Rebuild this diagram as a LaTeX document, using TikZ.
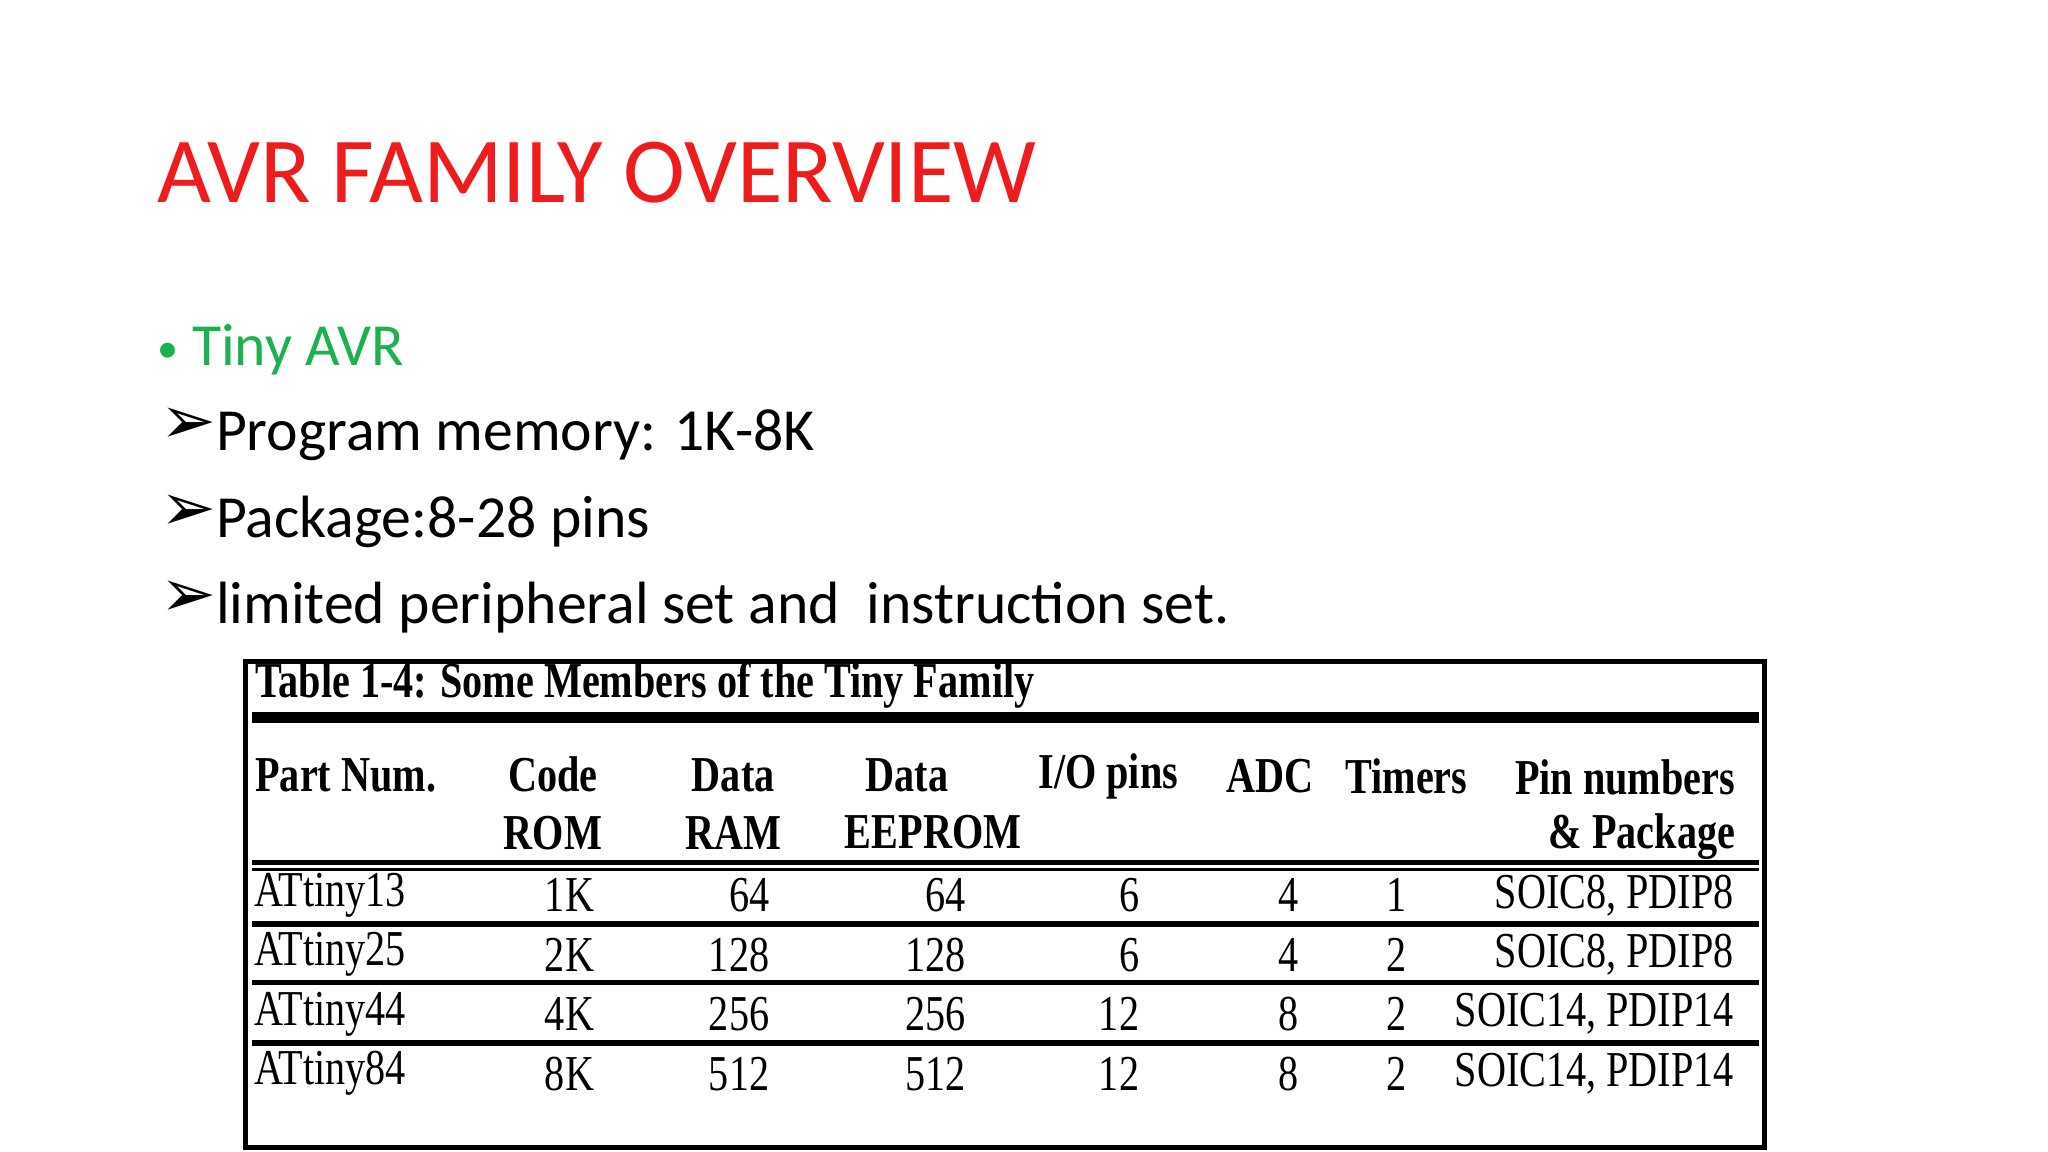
\documentclass[tikz,border=0pt]{standalone}
\usepackage{fontspec}
\setmainfont{Carlito}
\newfontfamily\tabfont{Liberation Serif}
\newfontfamily\dv{DejaVu Sans}
\definecolor{titred}{HTML}{EE1C1C}
\definecolor{bulgreen}{HTML}{1DB050}
\begin{document}
\begin{tikzpicture}[x=0.01307cm,y=-0.01307cm,
  tt/.style={inner sep=0,font=\tabfont\fontsize{14.3}{15}\selectfont},
  th/.style={inner sep=0,font=\tabfont\bfseries\fontsize{14.3}{16.5}\selectfont},
  bl/.style={anchor=base west,inner sep=0,font=\fontsize{17}{20}\selectfont}]
\useasboundingbox[fill=white] (0,0) rectangle (1567,881);
\node[anchor=base west,inner sep=0,text=titred,font=\fontsize{26.5}{30}\selectfont] (title) at (120,155) {AVR FAMILY OVERVIEW};
\node[bl,text=bulgreen] (b0) at (120,280) {{\fontsize{12}{14}\selectfont\raisebox{1pt}{\textbullet}}\ Tiny AVR};
\node[bl] (b1) at (122,345) {{\dv\fontsize{19}{20}\selectfont\raisebox{2pt}{➢}}Program memory: 1K-8K};
\node[bl] (b2) at (122,411) {{\dv\fontsize{19}{20}\selectfont\raisebox{2pt}{➢}}Package:8-28 pins};
\node[bl] (b3) at (122,477) {{\dv\fontsize{19}{20}\selectfont\raisebox{2pt}{➢}}limited peripheral set and\ \ instruction set.};
% table
\draw[line width=1.5pt] (188,506) rectangle (1350,878);
\draw[line width=3pt] (193,549) -- (1346,549);
\draw[line width=1.2pt] (193,660) -- (1346,660);
\draw[line width=0.8pt] (193,665) -- (1346,665);
\foreach \yy in {707,752,798} \draw[line width=1.5pt] (193,\yy) -- (1346,\yy);
\node[th,anchor=west,xscale=0.8] (cap) at (195,524) {Table 1-4: Some Members of the Tiny Family};
\node[th,anchor=west,xscale=0.8] (h1) at (195,593) {Part Num.};
\node[th,xscale=0.8,align=center] (h2) at (423,615) {Code\\ROM};
\node[th,xscale=0.8,align=center] (h3) at (561,615) {Data\\RAM};
\node[th,xscale=0.8,align=center] (h4) at (714,615) {\hspace*{-1.3em}Data\\EEPROM};
\node[th,xscale=0.8] (h5) at (848,594) {I/O pins};
\node[th,xscale=0.8] (h6) at (972,594) {ADC};
\node[th,xscale=0.8] (h7) at (1076,594) {Timers};
\node[th,xscale=0.8,anchor=east] (h8) at (1328,595) {Pin numbers};
\node[th,xscale=0.8,anchor=east] (h9) at (1328,640) {\& Package};
\foreach \n/\c/\r/\e/\io/\ad/\ti/\pk [count=\i] in
 {ATtiny13/1K/64/64/6/4/1/{SOIC8, PDIP8},
  ATtiny25/2K/128/128/6/4/2/{SOIC8, PDIP8},
  ATtiny44/4K/256/256/12/8/2/{SOIC14, PDIP14},
  ATtiny84/8K/512/512/12/8/2/{SOIC14, PDIP14}}{
  \pgfmathsetmacro\yy{685+45.5*(\i-1)}
  \node[tt,anchor=west,xscale=0.8] (n\i) at (194,\yy) {\n};
  \node[tt,anchor=east,xscale=0.8] (c\i) at (455,\yy) {\c};
  \node[tt,anchor=east,xscale=0.8] (r\i) at (589,\yy) {\r};
  \node[tt,anchor=east,xscale=0.8] (e\i) at (739,\yy) {\e};
  \node[tt,anchor=east,xscale=0.8] (io\i) at (872,\yy) {\io};
  \node[tt,anchor=east,xscale=0.8] (ad\i) at (994,\yy) {\ad};
  \node[tt,anchor=east,xscale=0.8] (ti\i) at (1077,\yy) {\ti};
  \node[tt,anchor=east,xscale=0.8] (pk\i) at (1327,\yy) {\pk};
}
\end{tikzpicture}
\end{document}
